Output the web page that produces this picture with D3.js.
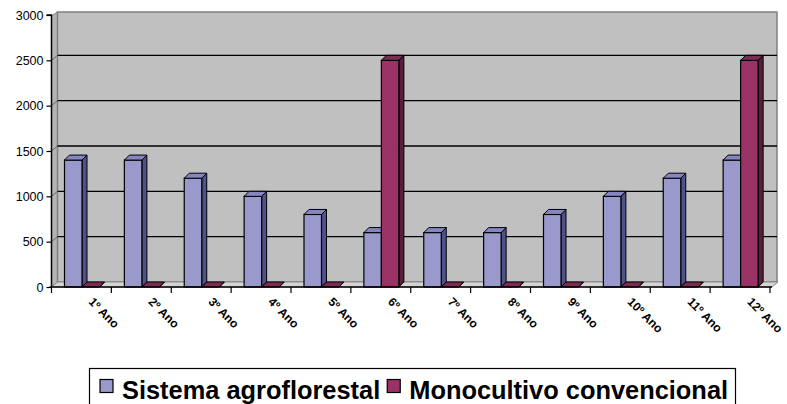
<!DOCTYPE html>
<html>
<head>
<meta charset="utf-8">
<script src="https://cdn.jsdelivr.net/npm/d3@7"></script>
<style>
  html, body { margin: 0; padding: 0; background: #fff; }
  svg { display: block; font-family: "Liberation Sans", Arial, sans-serif; }
</style>
</head>
<body>
<svg id="chart" width="787" height="404"></svg>
<script>
const categories = ["1º Ano","2º Ano","3º Ano","4º Ano","5º Ano","6º Ano","7º Ano","8º Ano","9º Ano","10º Ano","11º Ano","12º Ano"];
const seriesNames = ["Sistema agroflorestal","Monocultivo convencional"];
const agroflorestal = [1400,1400,1200,1000,800,600,600,600,800,1000,1200,1400];
const monocultivo = [0,0,0,0,0,2500,0,0,0,0,0,2500];
const yTicks = [0,500,1000,1500,2000,2500,3000];

const colors = {
  "Sistema agroflorestal": {front:"#9999cc", side:"#50508a", top:"#8585c2"},
  "Monocultivo convencional": {front:"#993366", side:"#5a1d3c", top:"#7d2a54"}
};

const svg = d3.select("#chart");
const pLeft = 51.5, pRight = 770, pTop = 15, pBottom = 287;
const wdx = 6, wdy = -5;   // wall depth
const bdx = 5, bdy = -5;   // bar depth

const y = d3.scaleLinear().domain([0,3000]).range([pBottom, pTop]);
const x0 = d3.scaleBand().domain(categories).range([pLeft, pRight]);
const x1 = d3.scaleBand().domain(seriesNames).range([13, 48]);

const wallTop = 12;
svg.append("polygon")
  .attr("points", [[pLeft,pBottom],[pLeft,wallTop+4],[pLeft+wdx,wallTop],[pLeft+wdx,pBottom+wdy]].join(" "))
  .attr("fill","#b4b4b4").attr("stroke","#808080").attr("stroke-width",1);
svg.append("rect")
  .attr("x", pLeft+wdx).attr("y", wallTop)
  .attr("width", pRight + wdx + 1 - (pLeft+wdx)).attr("height", pBottom+wdy - wallTop)
  .attr("fill","#c0c0c0").attr("stroke","#808080").attr("stroke-width",1.5);
svg.append("polygon")
  .attr("points", [[pLeft,pBottom],[pRight+2,pBottom],[pRight+2+wdx,pBottom+wdy],[pLeft+wdx,pBottom+wdy]].join(" "))
  .attr("fill","#d4d4d4").attr("stroke","#8a8a8a").attr("stroke-width",1);

yTicks.filter(t => t > 0 && t < 3000).forEach(t => {
  svg.append("line")
    .attr("x1", pLeft+wdx).attr("x2", pRight+wdx+1)
    .attr("y1", y(t)+wdy).attr("y2", y(t)+wdy)
    .attr("stroke","#000").attr("stroke-width",1.3);
  svg.append("line")
    .attr("x1", pLeft).attr("x2", pLeft+wdx)
    .attr("y1", y(t)).attr("y2", y(t)+wdy)
    .attr("stroke","#555").attr("stroke-width",0.8);
});

const data = [];
categories.forEach((c,i) => {
  data.push({cat:c, s:seriesNames[0], v:agroflorestal[i]});
  data.push({cat:c, s:seriesNames[1], v:monocultivo[i]});
});
const g = svg.append("g");
data.forEach(d => {
  const xa = x0(d.cat) + x1(d.s);
  const w = x1.bandwidth();
  const yt = y(d.v), yb = y(0);
  const col = colors[d.s];
  g.append("polygon")
    .attr("points", [[xa+w,yb],[xa+w,yt],[xa+w+bdx,yt+bdy],[xa+w+bdx,yb+bdy]].join(" "))
    .attr("fill", col.side).attr("stroke","#000").attr("stroke-width",1).attr("stroke-linejoin","round");
  if (d.v > 0) {
    g.append("rect").attr("x", xa).attr("y", yt).attr("width", w).attr("height", yb-yt)
      .attr("fill", col.front).attr("stroke","#000").attr("stroke-width",1.2);
  }
  g.append("polygon")
    .attr("points", [[xa,yt],[xa+w,yt],[xa+w+bdx,yt+bdy],[xa+bdx,yt+bdy]].join(" "))
    .attr("fill", col.top).attr("stroke","#000").attr("stroke-width",1).attr("stroke-linejoin","round");
});

const yAxis = d3.axisLeft(y).tickValues(yTicks).tickSize(5).tickPadding(3).tickFormat(d3.format("d"));
const ya = svg.append("g").attr("transform", `translate(${pLeft},0)`).call(yAxis);
ya.select(".domain").attr("stroke","#000").attr("stroke-width",1.5).attr("d", `M-5,${pTop}H0V${pBottom}`);
ya.selectAll(".tick line").attr("stroke","#000").attr("stroke-width",1.2);
ya.selectAll(".tick text").attr("font-size","12.5px").attr("fill","#000")
  .attr("font-family","Liberation Sans, Arial, sans-serif");

svg.append("line").attr("x1", pLeft-2).attr("x2", pRight+2).attr("y1", pBottom).attr("y2", pBottom)
  .attr("stroke","#000").attr("stroke-width",1.5);
const boundaries = categories.map(c => x0(c)).concat([x0(categories[categories.length-1]) + x0.bandwidth()]);
boundaries.forEach(b => {
  svg.append("line").attr("x1", b).attr("x2", b).attr("y1", pBottom).attr("y2", pBottom+6)
    .attr("stroke","#000").attr("stroke-width",1.2);
});
categories.forEach(c => {
  const cx = x0(c) + x0.bandwidth()/2 + 9;
  const cy = 300;
  svg.append("text")
    .attr("transform", `translate(${cx},${cy}) rotate(45)`)
    .attr("font-size","12px").attr("font-weight","bold")
    .attr("text-anchor","start").attr("dy","0.3em")
    .attr("fill","#000")
    .text(c);
});

// legend
const legendFont = 25.4;
const leg = svg.append("g");
leg.append("rect").attr("x", 89.5).attr("y", 368.5).attr("width", 646).attr("height", 40)
  .attr("fill","#fff").attr("stroke","#000").attr("stroke-width",1.2);
let cursor = 100;
seriesNames.forEach(name => {
  leg.append("rect").attr("x", cursor).attr("y", 379.5).attr("width", 13).attr("height", 13)
    .attr("fill", colors[name].front).attr("stroke","#000").attr("stroke-width",1.2);
  const t = leg.append("text").attr("x", cursor + 22).attr("y", 399)
    .attr("font-size", legendFont + "px").attr("font-weight","bold").attr("fill","#000")
    .text(name);
  cursor = cursor + 22 + t.node().getComputedTextLength() + 7;
});
</script>
</body>
</html>
